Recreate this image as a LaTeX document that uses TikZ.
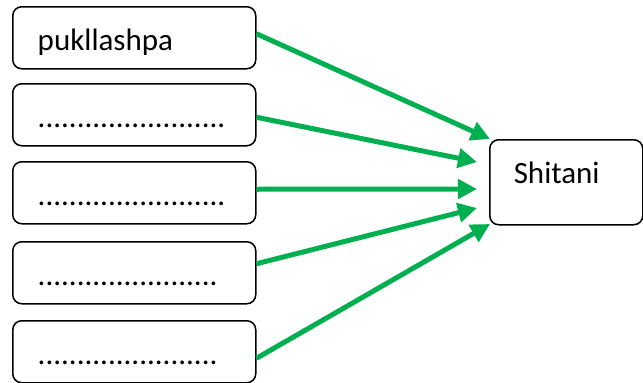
\documentclass[tikz,border=0pt]{standalone}
\usepackage{fontspec}
\setmainfont{Carlito}
\usetikzlibrary{arrows.meta}
\definecolor{linkgreen}{RGB}{0,176,80}

\begin{document}
\begin{tikzpicture}[x = 1pt, y = -1pt,
  word/.style = {draw, line width = 1.5pt, rounded corners = 9pt, anchor = north west,
    text width = 193pt, align = left, inner xsep = 25pt, inner ysep = 0pt,
    text height = 44pt, text depth = 18pt, font = \fontsize{31}{36}\selectfont},
  link/.style = {line width = 5pt, linkgreen, -{Triangle[length = 19pt, width = 19pt]}}]
\useasboundingbox (0,0) rectangle (643,383);
% left column
\node [word] (w1) at (12,6) {pukllashpa};
\node [word] (w2) at (12,83) {........................};
\node [word] (w3) at (12,161) {........................};
\node [word] (w4) at (12,241) {.......................};
\node [word] (w5) at (12,320) {.......................};
% target
\node [word, text width = 105pt, inner xsep = 24pt, text depth = 41pt] (sh) at (489,139) {Shitani};
\coordinate (in1) at (490,139);
\coordinate (in2) at (477,162);
\coordinate (in3) at (477,189);
\coordinate (in4) at (477,208);
\coordinate (in5) at (490,224);
\draw [link] ([yshift = 4pt]w1.east) -- (in1);
\draw [link] ([yshift = -2.5pt]w2.east) -- (in2);
\draw [link] ([yshift = 3.5pt]w3.east) -- (in3);
\draw [link] ([yshift = 9pt]w4.east) -- (in4);
\draw [link] ([yshift = -6.5pt]w5.east) -- (in5);
\end{tikzpicture}
\end{document}
